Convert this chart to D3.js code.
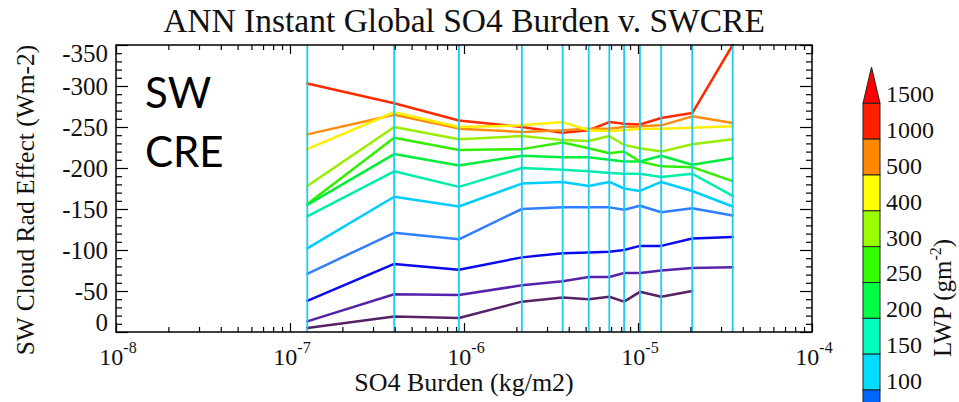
<!DOCTYPE html>
<html>
<head>
<meta charset="utf-8">
<script src="https://cdn.jsdelivr.net/npm/d3@7"></script>
<style>
  html, body { margin: 0; padding: 0; background: #fff; }
  svg { display: block; }
  .serif { font-family: "Liberation Serif", "DejaVu Serif", serif; fill: #111; }
</style>
</head>
<body>
<svg id="chart" width="959" height="402"></svg>
<script>
// SO4 burden bin centres (kg/m2)
const burden = [1.257e-7, 3.97e-7, 9.35e-7, 2.15e-6, 3.69e-6, 5.21e-6, 6.84e-6, 8.32e-6, 1.026e-5, 1.36e-5, 2.05e-5, 3.50e-5];

// Shortwave cloud radiative effect (W m-2) per LWP bin
const lwpBins = ["1000-1500", "500-1000", "400-500", "300-400", "250-300", "200-250", "150-200", "100-150", "50-100", "25-50", "10-25", "0-10"];
const swcre1000 = [-303, -279, -258, -250, -243, -246, -256, -254, -253, -261, -267, -350];
const swcre500  = [-241, -265, -248, -244, -246, -248, -248, -250, -251, -252, -263, -255];
const swcre400  = [-223, -268, -250, -252, -256, -246, -245, -246, -248, -248, -249, -251];
const swcre300  = [-178, -250, -235, -239, -234, -233, -239, -228, -224, -220, -229, -235];
const swcre250  = [-156, -237, -222, -223, -231, -224, -218, -220, -208, -202, -201, -184];
const swcre200  = [-155, -217, -203, -215, -213, -213, -210, -208, -208, -215, -204, -212];
const swcre150  = [-141, -196, -177, -200, -198, -196, -194, -193, -193, -189, -193, -166];
const swcre100  = [-102, -165, -153, -181, -183, -178, -183, -175, -172, -183, -172, -153];
const swcre50   = [-71, -121, -113, -150, -152, -152, -152, -149, -154, -146, -151, -142];
const swcre25   = [-38, -83, -76, -91, -96, -97, -98, -100, -105, -105, -114, -116];
const swcre10   = [-13, -46, -45, -57, -62, -67, -67, -72, -72, -75, -78, -79];
const swcre0    = [-5, -19, -17, -37, -42, -40, -43, -37, -49, -43, -50, null];
const lineColors = ["#ff2a00", "#ff8c10", "#ffee00", "#99ee00", "#33ee00", "#00ee3a", "#00eeaa", "#00ccff", "#2f7fff", "#0a0aee", "#5522aa", "#552266"];

// Axis ticks
const yTicks = [0, -50, -100, -150, -200, -250, -300, -350];
const xDecades = [-8, -7, -6, -5, -4];

// Colour bar levels (g m-2)
const cbLabels = ["1500", "1000", "500", "400", "300", "250", "200", "150", "100"];
const cbColors = ["#ff2000", "#ff8800", "#ffff00", "#99ff00", "#33ff00", "#00ff44", "#00ffbb", "#00ddff", "#0066ff"];
const cbTopColor = "#ff0000";

const series = [swcre1000, swcre500, swcre400, swcre300, swcre250, swcre200, swcre150, swcre100, swcre50, swcre25, swcre10, swcre0];

const svg = d3.select("#chart");
const X0 = 116, X1 = 812, Y0 = 45, Y1 = 332;

const x = d3.scaleLog().domain([1e-8, 1e-4]).range([X0, X1]);
const y = d3.scaleLinear().domain([0, -350]).range([Y1, Y0]);

// Title
svg.append("text").attr("class", "serif")
  .attr("x", (X0 + X1) / 2).attr("y", 32)
  .attr("text-anchor", "middle").style("font-size", "33.5px")
  .text("ANN Instant Global SO4 Burden v. SWCRE");

// Data lines
const line = d3.line()
  .defined(d => d.v !== null)
  .x(d => x(d.b)).y(d => y(d.v));

const plot = svg.append("g");
series.forEach((vals, i) => {
  const pts = vals.map((v, j) => ({ b: burden[j], v: v }));
  plot.append("path")
    .datum(pts)
    .attr("d", line)
    .attr("fill", "none")
    .attr("stroke", lineColors[i])
    .attr("stroke-width", 2.5)
    .attr("stroke-linejoin", "round")
    .attr("stroke-linecap", "round")
    .attr("data-lwp", lwpBins[i]);
});

// Bin markers
svg.append("g").selectAll("line").data(burden).join("line")
  .attr("x1", d => x(d)).attr("x2", d => x(d))
  .attr("y1", Y0).attr("y2", Y1)
  .attr("stroke", "#1ccbf2").attr("stroke-width", 1.8);

// Ticks
const majors = xDecades.map(k => Math.pow(10, k));
const minors = [];
xDecades.slice(0, -1).forEach(k => { for (let m = 2; m <= 9; m++) minors.push(m * Math.pow(10, k)); });
const yMinor = d3.range(0, -351, -10).filter(v => v % 50 !== 0);

function tickAxis(gen, tx, ty, values, size) {
  const g = svg.append("g").attr("transform", `translate(${tx},${ty})`)
    .call(gen.tickValues(values).tickSize(size).tickFormat(""));
  g.select(".domain").remove();
  g.selectAll("line").attr("stroke", "#000").attr("stroke-width", 1.2);
}
tickAxis(d3.axisBottom(x), 0, Y1, majors, -9);
tickAxis(d3.axisBottom(x), 0, Y1, minors, -5);
tickAxis(d3.axisTop(x), 0, Y0, majors, -9);
tickAxis(d3.axisTop(x), 0, Y0, minors, -5);
tickAxis(d3.axisLeft(y), X0, 0, yTicks, -12);
tickAxis(d3.axisLeft(y), X0, 0, yMinor, -6);
tickAxis(d3.axisRight(y), X1, 0, yTicks, -12);
tickAxis(d3.axisRight(y), X1, 0, yMinor, -6);

// Frame
svg.append("rect").attr("x", X0).attr("y", Y0)
  .attr("width", X1 - X0).attr("height", Y1 - Y0)
  .attr("fill", "none").attr("stroke", "#000").attr("stroke-width", 1.5);

// Y tick labels
svg.append("g").selectAll("text").data(yTicks).join("text")
  .attr("class", "serif")
  .attr("x", 108)
  .attr("y", d => {
    let cy = y(d);
    if (d === -350) cy += 8;
    if (d === 0) cy -= 10;
    return cy + 8.5;
  })
  .attr("text-anchor", "end").style("font-size", "25px")
  .text(d => String(d));

// X tick labels (powers of ten)
const xl = svg.append("g").selectAll("text").data(xDecades).join("text")
  .attr("class", "serif")
  .attr("x", d => x(Math.pow(10, d)) + 2)
  .attr("y", 365)
  .attr("text-anchor", "middle").style("font-size", "24px");
xl.append("tspan").text("10");
xl.append("tspan").attr("dy", -12).style("font-size", "16px").text(d => String(d));

// Axis titles
svg.append("text").attr("class", "serif")
  .attr("x", (X0 + X1) / 2).attr("y", 391)
  .attr("text-anchor", "middle").style("font-size", "26px")
  .text("SO4 Burden (kg/m2)");

svg.append("text").attr("class", "serif")
  .attr("transform", "translate(34,200) rotate(-90)")
  .attr("text-anchor", "middle").style("font-size", "25.5px")
  .text("SW Cloud Rad Effect (Wm-2)");

// Panel label
const pl = svg.append("text")
  .style("font-family", "Lato, 'Open Sans', sans-serif")
  .style("font-size", "42px").attr("fill", "#000");
pl.append("tspan").attr("x", 145).attr("y", 108).text("SW");
pl.append("tspan").attr("x", 145).attr("y", 167).text("CRE");

// Colour bar
const cbX = 863, cbW = 17;
const cb = d3.scaleLinear().domain([0, cbLabels.length - 1]).range([103.3, 390]);
const step = cb(1) - cb(0);
const cbg = svg.append("g");
cbg.append("path")
  .attr("d", `M${cbX},${cb(0)} L${cbX + cbW / 2},67 L${cbX + cbW},${cb(0)} Z`)
  .attr("fill", cbTopColor).attr("stroke", "#222").attr("stroke-width", 1);
cbg.selectAll("rect").data(cbColors).join("rect")
  .attr("x", cbX).attr("y", (d, i) => cb(i))
  .attr("width", cbW).attr("height", step)
  .attr("fill", d => d).attr("stroke", "#222").attr("stroke-width", 1);
cbg.selectAll("text").data(cbLabels).join("text")
  .attr("class", "serif")
  .attr("x", 886).attr("y", (d, i) => cb(i) - 1)
  .style("font-size", "24px")
  .text(d => d);

const lwpT = svg.append("text").attr("class", "serif")
  .attr("transform", "translate(951,298) rotate(-90)")
  .attr("text-anchor", "middle").style("font-size", "25px");
lwpT.append("tspan").text("LWP (gm");
lwpT.append("tspan").attr("dy", -10).style("font-size", "16px").text("-2");
lwpT.append("tspan").attr("dy", 10).text(")");
</script>
</body>
</html>
